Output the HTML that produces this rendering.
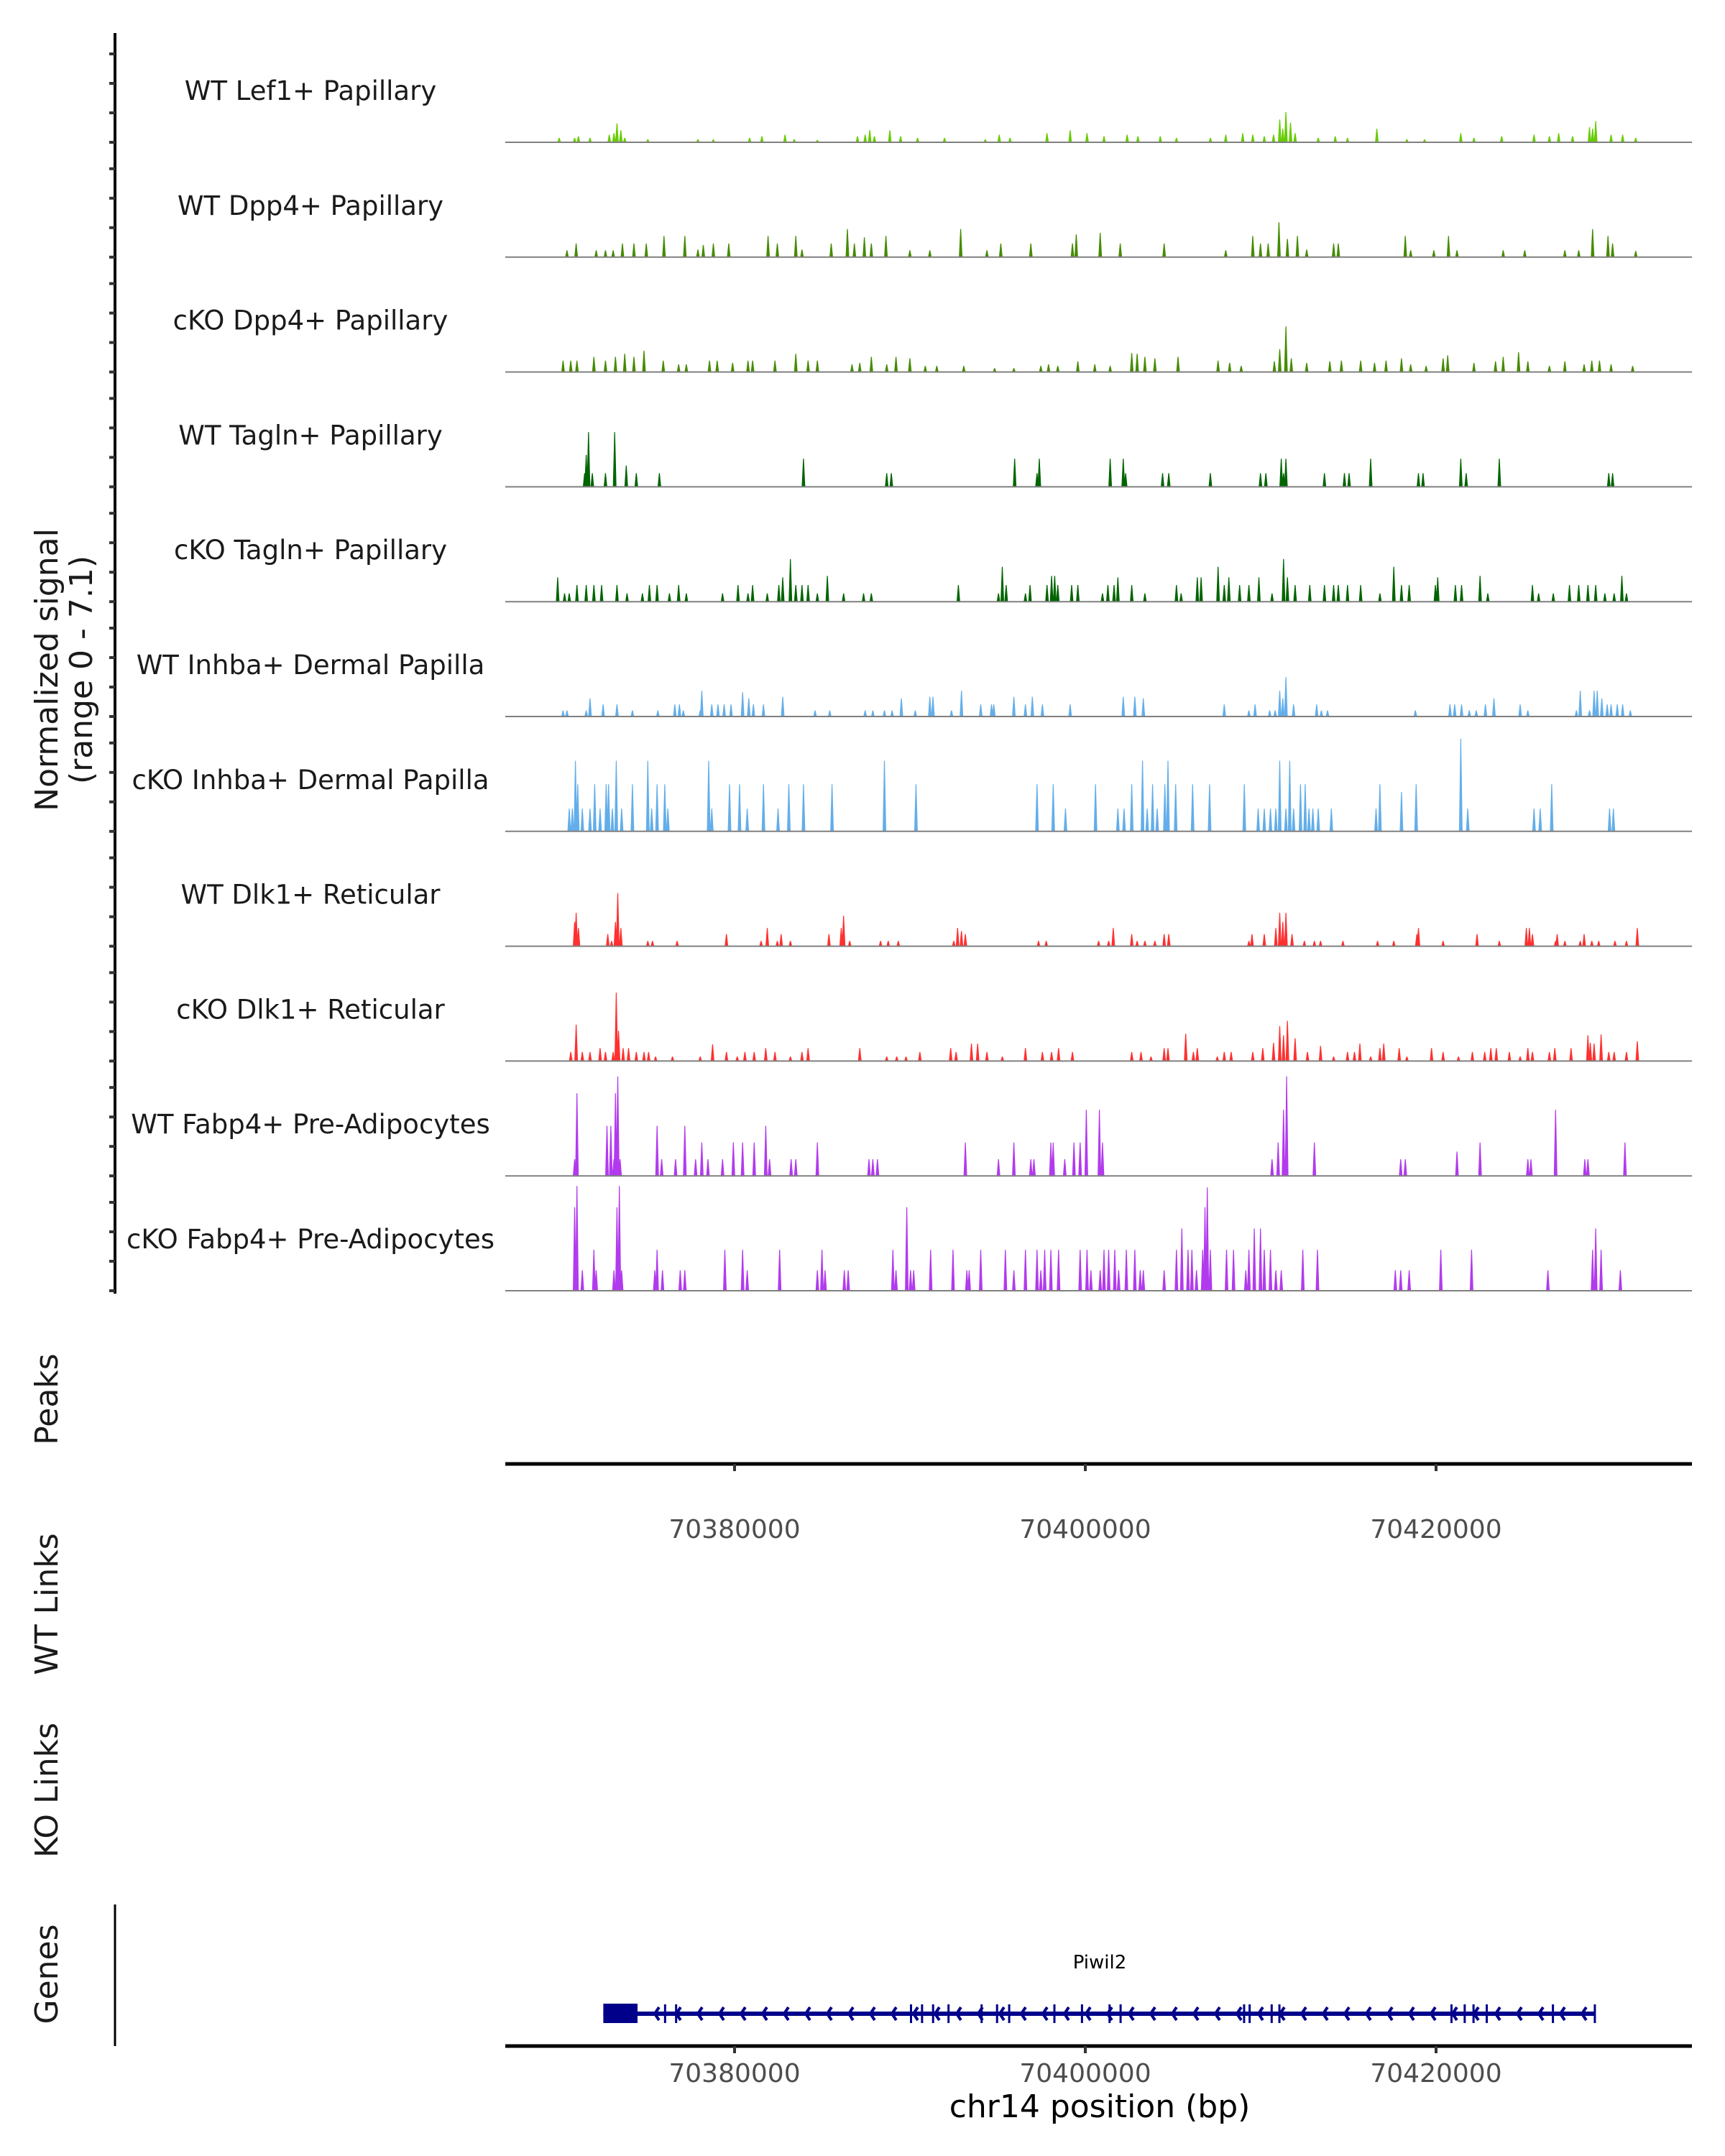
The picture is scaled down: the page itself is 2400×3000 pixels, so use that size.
<!DOCTYPE html>
<html><head><meta charset="utf-8">
<style>
html,body{margin:0;padding:0;background:#fff;}
svg{display:block;font-family:"DejaVu Sans","Liberation Sans",sans-serif;}
</style></head>
<body>
<svg id="chart" width="2400" height="3000" viewBox="0 0 2400 3000" xmlns="http://www.w3.org/2000/svg">
  <rect x="0" y="0" width="2400" height="3000" fill="#fff"/>
  <g id="tracks"></g>
  <g id="leftaxis"></g>
  <g id="xaxes"></g>
  <g id="gene"></g>
  <g fill="#1a1a1a" font-size="44" text-anchor="middle">
    <text transform="translate(80,932) rotate(-90)">Normalized signal</text>
    <text transform="translate(128,932) rotate(-90)">(range 0 - 7.1)</text>
    <text transform="translate(80,1947) rotate(-90)">Peaks</text>
    <text transform="translate(80,2232) rotate(-90)">WT Links</text>
    <text transform="translate(80,2491) rotate(-90)">KO Links</text>
    <text transform="translate(80,2747) rotate(-90)">Genes</text>
  </g>
  <text x="1530" y="2946" font-size="44" text-anchor="middle" fill="#000">chr14 position (bp)</text>
  <text x="1530" y="2739" font-size="26" text-anchor="middle" fill="#000">Piwil2</text>
</svg>
<script>
// ---- data: genomic grid (bins of BIN_SIZE bp starting at BIN_START) ----
const BIN_START = 70366706;
const BIN_SIZE = 43.94;
const SIGNAL_MAX = 7.1;
const trackNames = ["WT Lef1+ Papillary","WT Dpp4+ Papillary","cKO Dpp4+ Papillary","WT Tagln+ Papillary","cKO Tagln+ Papillary","WT Inhba+ Dermal Papilla","cKO Inhba+ Dermal Papilla","WT Dlk1+ Reticular","cKO Dlk1+ Reticular","WT Fabp4+ Pre-Adipocytes","cKO Fabp4+ Pre-Adipocytes"];
const trackColors = ["#66cc00","#458b00","#458b00","#006400","#006400","#63aeea","#63aeea","#ff3030","#ff3030","#b23aee","#b23aee"];

const wtLef1Bins = [75,95,100,115,140,146,150,155,160,190,255,275,322,338,368,380,410,462,472,478,484,504,518,540,575,628,646,660,708,738,760,782,812,826,855,876,920,940,962,975,990,1002,1010,1014,1018,1024,1030,1060,1082,1098,1136,1175,1198,1245,1262,1298,1340,1360,1372,1390,1412,1416,1420,1440,1455,1472];
const wtLef1Vals = [0.3,0.3,0.4,0.3,0.5,0.6,1.25,0.8,0.3,0.2,0.2,0.2,0.3,0.4,0.5,0.2,0.15,0.4,0.5,0.8,0.4,0.8,0.4,0.3,0.3,0.2,0.5,0.3,0.6,0.8,0.6,0.4,0.5,0.4,0.4,0.3,0.3,0.5,0.6,0.5,0.4,0.5,1.5,0.9,2.0,1.3,0.6,0.3,0.4,0.3,0.9,0.2,0.2,0.6,0.3,0.4,0.5,0.4,0.6,0.4,1.0,0.9,1.4,0.5,0.5,0.3];

const wtDpp4Bins = [85,97,123,135,145,157,172,188,211,238,255,262,275,295,346,358,382,390,428,449,458,471,480,499,530,556,596,630,648,687,741,746,777,803,860,940,975,985,995,1009,1020,1033,1045,1080,1086,1173,1180,1210,1229,1240,1300,1328,1380,1398,1416,1436,1442,1472];
const wtDpp4Vals = [0.45,0.9,0.45,0.45,0.45,0.9,0.9,0.9,1.4,1.4,0.5,0.8,0.9,0.9,1.4,0.9,1.4,0.5,0.9,1.85,0.9,1.3,0.9,1.4,0.45,0.45,1.85,0.45,0.9,0.9,0.9,1.5,1.6,0.9,0.9,0.45,1.4,0.9,0.9,2.3,1.2,1.4,0.5,0.9,0.9,1.4,0.45,0.45,1.4,0.45,0.45,0.45,0.45,0.45,1.85,1.4,0.9,0.4];

const koDpp4Bins = [80,90,98,120,135,148,160,172,185,210,230,240,270,280,300,320,326,355,382,398,410,455,465,480,500,512,530,550,565,600,640,665,700,710,722,748,770,790,818,825,835,848,878,930,945,960,1003,1010,1018,1025,1045,1075,1090,1115,1133,1148,1168,1180,1200,1222,1228,1262,1290,1300,1320,1332,1360,1380,1405,1415,1425,1440,1468];
const koDpp4Vals = [0.75,0.75,0.75,1.0,0.75,1.0,1.2,1.0,1.4,0.75,0.5,0.5,0.75,0.75,0.6,0.75,0.75,0.75,1.2,0.75,0.75,0.5,0.6,1.0,0.5,1.0,0.9,0.4,0.4,0.4,0.25,0.25,0.4,0.5,0.4,0.7,0.5,0.4,1.25,1.2,1.0,0.9,1.0,0.75,0.6,0.4,0.7,1.5,3.0,0.9,0.6,0.7,0.75,0.75,0.6,0.75,0.9,0.5,0.4,0.9,1.1,0.6,0.7,1.0,1.3,0.7,0.4,0.7,0.5,0.75,0.75,0.5,0.4];

const wtTaglnBins = [108,110,113,118,135,147,162,175,205,392,500,506,666,695,698,790,807,810,858,866,920,985,992,1012,1015,1018,1068,1094,1100,1128,1190,1196,1245,1252,1295,1437,1442];
const wtTaglnVals = [0.9,2.1,3.6,0.9,0.9,3.6,1.4,0.9,0.9,1.85,0.9,0.9,1.85,0.9,1.85,1.85,1.85,0.9,0.9,0.9,0.9,0.9,0.9,1.85,0.9,1.85,0.9,0.9,0.9,1.85,0.9,0.9,1.85,0.9,1.85,0.9,0.9];

const koTaglnBins = [73,82,88,98,110,120,130,150,163,183,192,202,218,230,240,287,307,320,326,345,360,365,375,382,390,398,410,423,444,470,480,593,645,650,655,680,686,708,714,718,722,740,748,780,787,795,800,818,835,876,882,903,908,930,938,944,958,970,983,1000,1015,1020,1030,1049,1068,1080,1086,1098,1115,1140,1158,1168,1178,1212,1215,1238,1246,1270,1280,1338,1346,1365,1386,1398,1410,1420,1432,1444,1454,1460];
const koTaglnVals = [1.6,0.55,0.55,1.1,1.1,1.1,1.1,1.1,0.55,0.55,1.1,1.1,0.55,1.1,0.55,0.55,1.1,0.55,1.1,0.55,1.1,1.6,2.8,1.1,1.1,1.1,0.55,1.7,0.55,0.55,0.55,1.1,0.55,2.3,1.1,0.55,1.1,1.1,1.7,1.7,1.1,1.1,1.1,0.55,1.1,1.1,1.6,1.1,0.55,1.1,0.55,1.6,1.6,2.3,1.1,1.6,1.1,1.1,1.6,0.55,2.8,1.6,1.1,1.1,1.1,1.1,1.1,1.1,1.1,0.55,2.3,1.1,1.1,1.1,1.6,1.1,1.1,1.7,0.55,1.1,0.55,0.55,1.1,1.1,1.1,1.1,0.55,0.55,1.7,0.55];

const wtInhbaBins = [80,85,110,115,132,150,170,203,225,231,236,258,260,273,281,289,298,313,321,327,340,365,407,426,472,482,497,507,519,537,556,560,584,597,622,636,639,665,680,689,702,738,807,822,833,938,970,978,997,1004,1010,1014,1018,1028,1058,1064,1072,1186,1231,1237,1246,1256,1265,1277,1288,1322,1332,1395,1400,1412,1418,1422,1428,1435,1440,1448,1455,1465];
const wtInhbaVals = [0.4,0.4,0.4,1.2,0.8,0.8,0.4,0.4,0.8,0.8,0.4,0.4,1.7,0.8,0.8,0.8,0.8,1.6,1.2,0.8,0.8,1.3,0.4,0.4,0.4,0.4,0.4,0.4,1.2,0.4,1.3,1.3,0.4,1.7,0.8,0.8,0.8,1.3,0.8,1.3,0.8,0.8,1.3,1.3,1.2,0.8,0.4,0.8,0.4,0.4,1.7,1.2,2.6,0.8,0.8,0.4,0.4,0.4,0.8,0.8,0.8,0.4,0.4,0.8,1.2,0.8,0.4,0.4,1.7,0.4,1.7,1.7,1.2,0.8,0.8,0.8,0.8,0.4];

const koInhbaBins = [88,92,96,99,105,115,121,128,136,139,144,149,156,170,190,195,202,212,216,269,273,296,309,319,340,359,373,392,429,497,538,695,716,732,771,800,808,818,832,838,845,851,861,865,875,897,919,964,982,990,998,1005,1010,1018,1023,1028,1037,1043,1048,1053,1060,1077,1135,1140,1168,1187,1245,1254,1340,1348,1363,1438,1443];
const koInhbaVals = [1.5,1.5,4.65,3.1,1.5,1.5,3.1,1.5,3.1,3.1,1.5,4.65,1.5,3.1,4.65,1.5,3.1,3.1,1.5,4.65,1.5,3.1,3.1,1.5,3.1,1.5,3.1,3.1,3.1,4.65,3.1,3.1,3.1,1.5,3.1,1.5,1.5,3.1,4.65,1.5,3.1,1.5,3.1,4.65,3.1,3.1,3.1,3.1,1.5,1.5,1.5,1.5,4.65,1.5,4.65,1.5,3.1,3.1,1.5,1.5,1.5,1.5,1.5,3.1,2.6,3.1,6.1,1.5,1.5,1.5,3.1,1.5,1.5];

const wtDlk1Bins = [95,97,100,138,143,148,151,155,190,196,228,292,337,345,358,363,375,425,441,444,452,492,502,515,587,592,597,602,697,707,775,788,794,818,825,835,848,860,866,970,974,990,1005,1010,1014,1018,1026,1042,1055,1063,1092,1137,1158,1188,1190,1222,1266,1295,1330,1334,1338,1368,1370,1380,1400,1405,1415,1424,1445,1460,1474];
const wtDlk1Vals = [1.6,2.2,1.2,0.8,0.35,1.6,3.5,1.2,0.35,0.35,0.35,0.8,0.35,1.2,0.35,0.8,0.35,0.8,1.2,2.0,0.35,0.35,0.35,0.35,0.35,1.2,1.0,0.8,0.35,0.35,0.35,0.35,1.2,0.8,0.35,0.35,0.35,0.8,0.8,0.35,0.8,0.8,1.2,2.2,1.6,2.2,0.8,0.35,0.35,0.35,0.35,0.35,0.35,0.8,1.2,0.35,0.8,0.35,1.2,1.2,0.8,0.35,0.8,0.35,0.35,0.8,0.35,0.35,0.35,0.35,1.2];

const koDlk1Bins = [90,97,105,115,128,135,145,149,152,158,165,175,185,191,200,222,258,274,292,306,316,328,343,355,375,390,398,465,500,513,525,543,583,590,610,618,630,650,680,702,714,723,741,818,830,843,860,865,888,898,903,929,938,947,975,988,1002,1010,1015,1020,1030,1046,1063,1080,1098,1107,1114,1128,1140,1145,1165,1175,1207,1222,1242,1260,1276,1284,1291,1308,1322,1332,1338,1360,1367,1388,1410,1413,1418,1427,1437,1444,1460,1474];
const koDlk1Vals = [0.6,2.4,0.6,0.6,0.85,0.6,0.6,4.5,2.0,0.85,0.85,0.6,0.6,0.6,0.3,0.3,0.3,1.1,0.6,0.3,0.6,0.6,0.85,0.6,0.3,0.6,0.85,0.85,0.3,0.3,0.3,0.6,0.85,0.6,1.15,1.15,0.6,0.3,0.85,0.6,0.6,0.85,0.6,0.6,0.6,0.3,0.85,0.85,1.8,0.6,0.85,0.3,0.6,0.6,0.6,0.85,1.2,2.3,1.7,2.65,1.5,0.6,1.0,0.3,0.6,0.6,1.15,0.3,0.85,1.15,0.85,0.3,0.85,0.6,0.3,0.6,0.6,0.85,0.85,0.6,0.3,0.85,0.6,0.6,0.85,0.85,1.7,1.2,1.15,1.75,0.6,0.6,0.6,1.3];

const wtFabp4Bins = [95,98,137,142,146,148,151,154,202,208,226,238,252,260,268,287,301,313,328,343,348,376,382,410,477,482,488,602,645,665,687,691,713,716,731,743,751,759,776,780,1000,1008,1015,1019,1055,1167,1173,1240,1270,1332,1336,1368,1406,1410,1458];
const wtFabp4Vals = [1.1,5.45,3.3,3.3,1.1,5.45,6.55,1.1,3.3,1.1,1.1,3.3,1.1,2.2,1.1,1.1,2.2,2.2,2.2,3.3,1.1,1.1,1.1,2.2,1.1,1.1,1.1,2.2,1.1,2.2,1.1,1.1,2.2,2.2,1.1,2.2,2.2,4.35,4.35,2.2,1.1,2.2,4.35,6.55,2.2,1.1,1.1,1.6,2.2,1.1,1.1,4.35,1.1,1.1,2.2];

const koFabp4Bins = [95,98,105,120,123,146,150,153,156,199,202,209,232,238,290,313,319,361,410,416,420,445,450,508,512,526,531,535,557,586,604,607,622,654,665,680,695,700,705,713,723,751,760,765,777,782,788,796,801,811,822,829,833,860,876,883,891,896,902,910,913,916,920,941,950,966,970,977,985,990,998,1005,1012,1040,1059,1160,1167,1178,1219,1259,1358,1416,1420,1427,1452];
const koFabp4Vals = [5.5,6.9,1.35,2.7,1.35,1.35,5.5,6.9,1.35,1.35,2.7,1.35,1.35,1.35,2.7,2.7,1.35,2.7,1.35,2.7,1.35,1.35,1.35,2.7,1.35,5.5,1.35,1.35,2.7,2.7,1.35,1.35,2.7,2.7,1.35,2.7,2.7,1.35,2.7,2.7,2.7,2.7,2.7,1.35,1.35,2.7,2.7,2.7,1.35,2.7,2.7,1.35,1.35,1.35,2.7,4.1,2.7,2.7,1.35,2.7,5.5,6.8,2.7,2.7,2.7,1.35,2.7,4.1,4.1,2.7,2.7,1.35,1.35,2.7,2.7,1.35,1.35,1.35,2.7,2.7,1.35,2.7,4.1,2.7,1.35];

const trackBins = [wtLef1Bins,wtDpp4Bins,koDpp4Bins,wtTaglnBins,koTaglnBins,wtInhbaBins,koInhbaBins,wtDlk1Bins,koDlk1Bins,wtFabp4Bins,koFabp4Bins];
const trackVals = [wtLef1Vals,wtDpp4Vals,koDpp4Vals,wtTaglnVals,koTaglnVals,wtInhbaVals,koInhbaVals,wtDlk1Vals,koDlk1Vals,wtFabp4Vals,koFabp4Vals];

const xTicks = [70380000,70400000,70420000];
const xTickLabels = ["70380000","70400000","70420000"];

const geneStart = 70372516;
const geneEnd = 70429054;
const utrEnd = 70374466;
const exonPositions = [70376038,70376667,70390062,70390691,70391320,70392200,70394087,70394968,70395660,70398238,70399810,70401383,70402012,70409055,70409370,70410627,70411068,70420879,70421633,70422136,70422891,70426664,70429054];

// ---- scales ----
const NS = "http://www.w3.org/2000/svg";
const PLOT_L = 703, PLOT_R = 2354;
function xScale(bp){ return 1510 + (bp - 70400000) * 0.0244; }
function binToBp(b){ return BIN_START + b * BIN_SIZE; }
const BASE0 = 198, TRACK_STEP = 159.8, TRACK_H = 150;
function baseY(i){ return BASE0 + i * TRACK_STEP; }
function yScale(i, v){ return baseY(i) - (v / SIGNAL_MAX) * TRACK_H; }
function mk(tag, attrs, parent){
  const e = document.createElementNS(NS, tag);
  for (const k in attrs) e.setAttribute(k, attrs[k]);
  parent.appendChild(e);
  return e;
}

// ---- tracks ----
const gT = document.getElementById('tracks');
for (let i = 0; i < trackNames.length; i++){
  const g = mk('g', {}, gT);
  
  
  const b = baseY(i);
  const bins = trackBins[i], vals = trackVals[i];
  let d = '';
  for (let j = 0; j < bins.length; j++){
    const x = xScale(binToBp(bins[j]));
    const y = yScale(i, vals[j]);
    d += 'M' + (x-2.5).toFixed(1) + ' ' + b + 'L' + (x-0.6).toFixed(1) + ' ' + y.toFixed(1) + 'L' + (x+0.6).toFixed(1) + ' ' + y.toFixed(1) + 'L' + (x+2.5).toFixed(1) + ' ' + b + 'Z';
  }
  const p = mk('path', {d: d, fill: trackColors[i]}, g);
  
  
  const bl = mk('line', {x1: PLOT_L, x2: PLOT_R, y1: b, y2: b, stroke: '#808080', 'stroke-width': 2}, g);
  
  
  const t = mk('text', {x: 432, y: b - 59, 'font-size': 37, 'text-anchor': 'middle', fill: '#1a1a1a'}, g);
  t.textContent = trackNames[i];
  
  
}

// ---- left axis ----
const gA = document.getElementById('leftaxis');
const ax = mk('line', {x1: 160, x2: 160, y1: 46, y2: 1800, stroke: '#000', 'stroke-width': 4}, gA);


for (let i = 0; i < trackNames.length; i++){
  for (let k = 0; k < 4; k++){
    const y = baseY(i) - k * 41;
    const tk = mk('line', {x1: 152, x2: 160, y1: y, y2: y, stroke: '#333', 'stroke-width': 4}, gA);
    
    
  }
}
const gl = mk('line', {x1: 160, x2: 160, y1: 2650, y2: 2847, stroke: '#000', 'stroke-width': 3}, gA);



// ---- x axes ----
const gX = document.getElementById('xaxes');
[[2037, 2140], [2847, 2897]].forEach(function(pair, idx){
  const ay = pair[0], ly = pair[1];
  const l = mk('line', {x1: PLOT_L, x2: PLOT_R, y1: ay, y2: ay, stroke: '#000', 'stroke-width': 5}, gX);
  
  
  for (let j = 0; j < xTicks.length; j++){
    const x = xScale(xTicks[j]);
    const tk = mk('line', {x1: x, x2: x, y1: ay, y2: ay + 10, stroke: '#333', 'stroke-width': 4}, gX);
    
    
    const t = mk('text', {x: x, y: ly, 'font-size': 36, 'text-anchor': 'middle', fill: '#4d4d4d'}, gX);
    t.textContent = xTickLabels[j];
    
    
  }
});

// ---- gene ----
const gG = document.getElementById('gene');
const GY = 2802;
const x0 = xScale(geneStart), x1 = xScale(geneEnd);
const gline = mk('line', {x1: x0, x2: x1, y1: GY, y2: GY, stroke: '#00008b', 'stroke-width': 6}, gG);


const box = mk('rect', {x: x0, y: GY - 14, width: xScale(utrEnd) - x0, height: 27, fill: '#00008b'}, gG);


let ad = '';
for (let x = xScale(utrEnd) + 24; x < x1 - 8; x += 30){
  ad += 'M' + (x + 6) + ' ' + (GY - 9) + 'L' + x + ' ' + GY + 'L' + (x + 6) + ' ' + (GY + 9);
}
const arrows = mk('path', {d: ad, stroke: '#00008b', 'stroke-width': 4, fill: 'none'}, gG);


for (let j = 0; j < exonPositions.length; j++){
  const x = xScale(exonPositions[j]);
  const ex = mk('line', {x1: x, x2: x, y1: GY - 13, y2: GY + 13, stroke: '#00008b', 'stroke-width': 3}, gG);
  
  
}
</script>
</body></html>
